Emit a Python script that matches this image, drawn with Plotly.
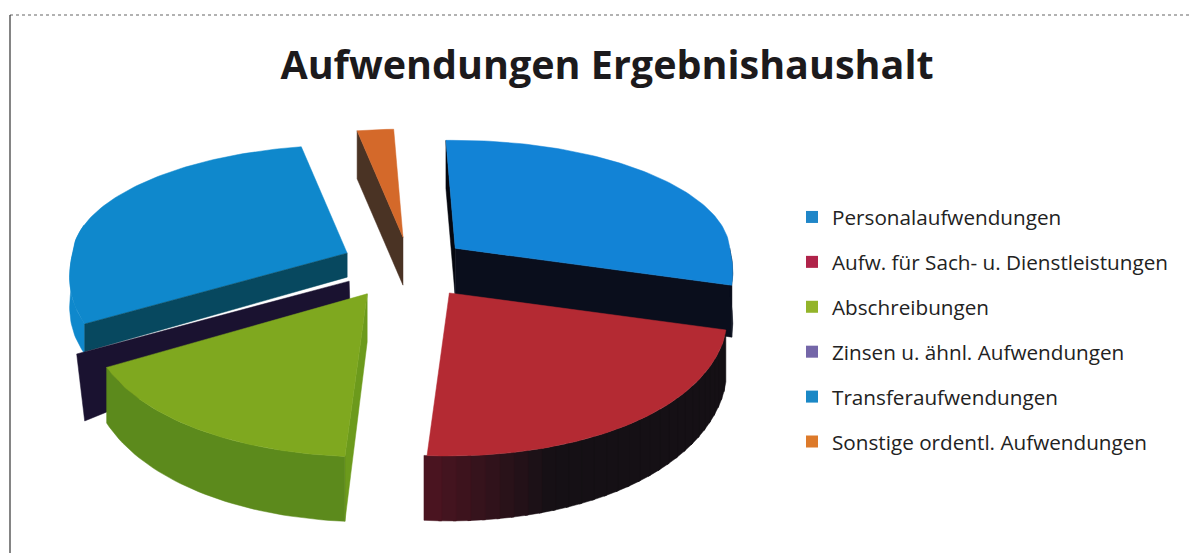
import math
import plotly.graph_objects as go

# --- data -------------------------------------------------------------
TITLE = "Aufwendungen Ergebnishaushalt"
CATEGORIES = ["Personalaufwendungen", "Aufw. für Sach- u. Dienstleistungen", "Abschreibungen",
              "Zinsen u. ähnl. Aufwendungen", "Transferaufwendungen", "Sonstige ordentl. Aufwendungen"]
SHARES = [29.2, 22.5, 16.4, 0.3, 29.4, 2.2]

# --- style ------------------------------------------------------------
LEGEND_COLORS = ["#1f86c8", "#b0234a", "#93b42a", "#7466a8", "#1a88c6", "#dd7a2a"]
TOP = ["#1283d6", "#b42a33", "#7fa81f", "#3b2a5a", "#0f88cc", "#d4692a"]
WALL = ["#0a0e1c", "#141015", "#5c8a1c", "#1a1430", "#0f88cc", "#3f2a1e"]
CUT = ["#0a0e1c", "#141015", "#6c9a1c", "#1a1430", "#07485f", "#4a3324"]
NAVY = "#1a1230"
CENTER = (405, 268)
EXPLODE = (65, 31)
PULL_X = [1.0, 1.15, 1.05, 1.0, 1.0, 0.3]
PULL_Y = [1.0, 1.0, 1.0, 1.0, 1.05, 1.0]
RX, RY_BACK, RY_FRONT, PERSP, TAPER = 277, 108, 163, 0.12, 0.03
START = -2.0


def rim(t):
    s, c = math.sin(t), math.cos(t)
    x = RX * s * (1 + PERSP * max(0, -c) - TAPER * max(0, c + 0.3))
    y = -(RY_BACK if c > 0 else RY_FRONT) * c
    return x, y


def drop(y):
    return 48 + max(0.0, y) / RY_FRONT * 17


def arc(a, b, n=90):
    return [a + (b - a) * i / n for i in range(n + 1)]


traces = []


def poly(pts, color):
    xs = [p[0] for p in pts] + [pts[0][0]]
    ys = [p[1] for p in pts] + [pts[0][1]]
    traces.append(go.Scatter(x=xs, y=ys, mode="lines", fill="toself", fillcolor=color,
                             line=dict(width=0.5, color=color), hoverinfo="skip", showlegend=False))


def mix(a, b, f):
    pa = [int(a[i:i + 2], 16) for i in (1, 3, 5)]
    pb = [int(b[i:i + 2], 16) for i in (1, 3, 5)]
    return "#%02x%02x%02x" % tuple(round(u + (v - u) * f) for u, v in zip(pa, pb))


total = sum(SHARES)
angles = [math.radians(START)]
for v in SHARES:
    angles.append(angles[-1] + 2 * math.pi * v / total)

apex = []
for i in range(len(SHARES)):
    mid = (angles[i] + angles[i + 1]) / 2
    apex.append((CENTER[0] + PULL_X[i] * EXPLODE[0] * math.sin(mid),
                 CENTER[1] - PULL_Y[i] * EXPLODE[1] * math.cos(mid)))


def top_pts(i):
    ax, ay = apex[i]
    return [(ax, ay)] + [(ax + rim(t)[0], ay + rim(t)[1]) for t in arc(angles[i], angles[i + 1])]


def wall_pts(i, a, b, h=None):
    ax, ay = apex[i]
    up, low = [], []
    for t in arc(a, b, 40):
        x, y = rim(t)
        up.append((ax + x, ay + y))
        low.append((ax + x, ay + y + (h if h else drop(y))))
    return up + low[::-1]


def cut_pts(i, t, h0=0.0, h1=None):
    ax, ay = apex[i]
    x, y = rim(t)
    d_a, d_r = drop(0), drop(y)
    f1 = 1.0 if h1 is None else h1
    return [(ax, ay + d_a * h0), (ax + x, ay + y + d_r * h0),
            (ax + x, ay + y + d_r * f1), (ax, ay + d_a * f1)]


# back to front: orange, blue, transfer, red, green
# orange
i = 5
poly(cut_pts(i, angles[i]), CUT[i])
poly(top_pts(i), TOP[i])

# blue
i = 0
poly(cut_pts(i, angles[i]), "#05070f")
poly(cut_pts(i, angles[i + 1]), CUT[i])
poly(wall_pts(i, math.pi / 2, angles[i + 1]), WALL[i])
poly(top_pts(i), TOP[i])

# transfer with the interest slice as the dark band beneath it
i = 4
poly(wall_pts(i, angles[i], math.radians(285), h=30), WALL[i])
poly(top_pts(i), TOP[i])
poly(cut_pts(i, angles[i], 0, 0.5), CUT[i])
ax, ay = apex[i]
x, y = rim(angles[i])
poly([(ax + 2, ay + 28), (ax + x - 8, ay + y + 30), (ax + x, ay + y + 97), (ax + 3, ay + 60)], NAVY)

# red, wall fades from maroon at the left to black
i = 1
n = 30
steps = arc(angles[i], angles[i + 1], n)
for k in range(n):
    f = k / (n - 1)
    col = mix("#151015", "#4a1420", max(0.0, (f - 0.72) / 0.28))
    poly(wall_pts(i, steps[k], steps[k + 1] + 0.01), col)
poly(top_pts(i), TOP[i])

# green
i = 2
poly(cut_pts(i, angles[i]), CUT[i])
poly(wall_pts(i, angles[i], angles[i + 1]), WALL[i])
poly(top_pts(i), TOP[i])

fig = go.Figure(traces)

for name, color in zip(CATEGORIES, LEGEND_COLORS):
    fig.add_trace(go.Scatter(x=[None], y=[None], mode="markers", name=name, legendgroup=name,
                             marker=dict(symbol="square", size=11, color=color)))

W, H = 1192, 553
fig.update_layout(
    width=W, height=H, margin=dict(l=0, r=0, t=0, b=0),
    paper_bgcolor="white", plot_bgcolor="white",
    xaxis=dict(range=[0, W], visible=False, fixedrange=True),
    yaxis=dict(range=[H, 0], visible=False, fixedrange=True),
    title=dict(text=TITLE, x=607 / W, xanchor="center", y=1 - 65 / H, yanchor="middle",
               font=dict(family="Open Sans", size=39.5, color="#1c1a1c", weight="bold")),
    legend=dict(x=792 / W, xanchor="left", y=1 - 197 / H, yanchor="top", tracegroupgap=15,
                itemsizing="constant", bgcolor="rgba(0,0,0,0)",
                font=dict(family="Open Sans", size=20.7, color="#222222")),
    shapes=[
        dict(type="line", xref="x", yref="y", x0=10, x1=1192, y0=15, y1=15,
             line=dict(color="#666666", width=1.2, dash="dot")),
        dict(type="line", xref="x", yref="y", x0=10, x1=10, y0=15, y1=553,
             line=dict(color="#333333", width=1.2)),
    ],
)

fig.write_html("out.html", post_script="document.body.style.margin='0';",
               config=dict(displayModeBar=False))
